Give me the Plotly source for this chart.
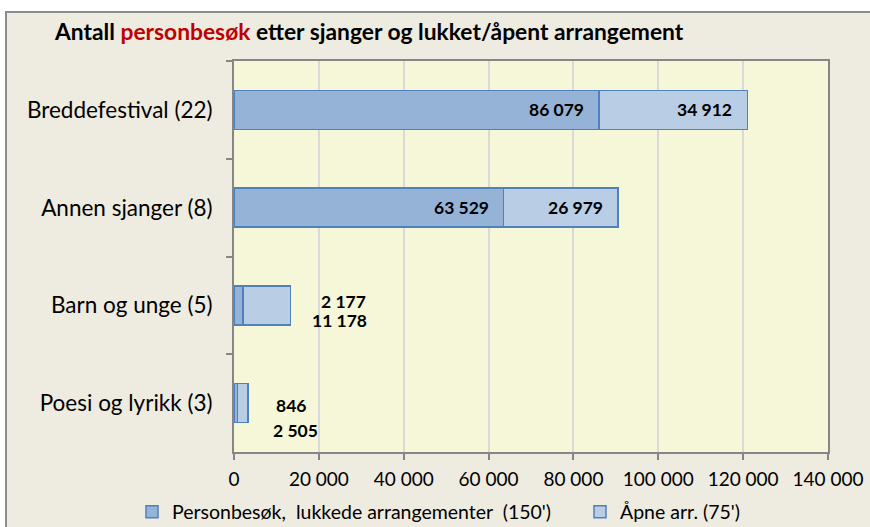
import plotly.graph_objects as go

categories = ["Breddefestival (22)", "Annen sjanger (8)", "Barn og unge (5)", "Poesi og lyrikk (3)"]
closed_vals = [86079, 63529, 2177, 846]
open_vals = [34912, 26979, 11178, 2505]
closed_name = "Personbesøk,\u00a0 lukkede arrangementer\u00a0 (150')"
open_name = "Åpne arr. (75')"
x_ticks = [0, 20000, 40000, 60000, 80000, 100000, 120000, 140000]

W, H = 870, 527
L, R, T, B = 234, 42, 61, 75
pw, ph = W - L - R, H - T - B

def px_x(p):
    return (p - L) / pw

def px_y(p):
    return (H - B - p) / ph

fnt = "Lato, Carlito, Calibri, sans-serif"
lab_size = 17.5

fig = go.Figure()
fig.add_trace(go.Bar(
    y=categories, x=closed_vals, orientation="h", name=closed_name, legend="legend",
    marker=dict(color="#95B3D7", line=dict(color="#4F81BD", width=1.5)),
))
fig.add_trace(go.Bar(
    y=categories, x=open_vals, orientation="h", name=open_name, legend="legend2",
    marker=dict(color="#B9CDE5", line=dict(color="#4F81BD", width=1.5)),
))

def fmt(v):
    return f"{v:,}".replace(",", " ")

annotations = []
for i in range(2):
    c, o = closed_vals[i], open_vals[i]
    annotations.append(dict(x=c, y=categories[i], xref="x", yref="y", text=f"<b>{fmt(c)}</b>",
                            showarrow=False, xanchor="right", xshift=-13,
                            font=dict(family=fnt, size=lab_size, color="black")))
    annotations.append(dict(x=c + o, y=categories[i], xref="x", yref="y", text=f"<b>{fmt(o)}</b>",
                            showarrow=False, xanchor="right", xshift=-13,
                            font=dict(family=fnt, size=lab_size, color="black")))
offsets = {2: [(53, 4), (49, -15)], 3: [(43, -2), (47, -27)]}
for i in (2, 3):
    tot = closed_vals[i] + open_vals[i]
    for (dx, dy), v in zip(offsets[i], (closed_vals[i], open_vals[i])):
        annotations.append(dict(x=tot, y=categories[i], xref="x", yref="y", text=f"<b>{fmt(v)}</b>",
                                showarrow=False, xanchor="center", xshift=dx, yshift=dy,
                                font=dict(family=fnt, size=lab_size, color="black")))

annotations.append(dict(
    x=px_x(52), y=px_y(31), xref="paper", yref="paper", xanchor="left", yanchor="middle",
    text="<b>Antall <span style='color:#C00000'>personbesøk</span> etter sjanger og lukket/åpent arrangement</b>",
    showarrow=False, font=dict(family=fnt, size=22.8, color="black"),
))

shapes = [
    dict(type="rect", xref="paper", yref="paper", x0=px_x(6), x1=px_x(880), y0=px_y(12), y1=px_y(540),
         fillcolor="#EEEBE0", line=dict(color="#8C8C8C", width=2), layer="below"),
    dict(type="rect", xref="paper", yref="paper", x0=0, x1=1, y0=0, y1=1,
         fillcolor="#F5F7D8", line=dict(width=0), layer="below"),
]

leg_common = dict(orientation="h", xanchor="left", y=px_y(512), yanchor="middle",
                  font=dict(family=fnt, size=19.5, color="black"), bgcolor="rgba(0,0,0,0)")

fig.update_layout(
    width=W, height=H,
    margin=dict(l=L, r=R, t=T, b=B, autoexpand=False),
    barmode="stack", bargap=0.6,
    paper_bgcolor="white", plot_bgcolor="rgba(0,0,0,0)",
    separators=", ",
    font=dict(family=fnt, size=16, color="black"),
    showlegend=True,
    legend=dict(x=px_x(132), **leg_common),
    legend2=dict(x=px_x(580), **leg_common),
    annotations=annotations, shapes=shapes,
    xaxis=dict(range=[0, 140000], tickvals=x_ticks, tickformat=",d",
               showgrid=True, gridcolor="#D9D9D9", gridwidth=1.5,
               showline=True, linecolor="#868686", linewidth=2, mirror=True,
               ticks="outside", ticklen=6, tickcolor="#868686", tickwidth=1.5,
               tickfont=dict(family=fnt, size=19), ticklabelstandoff=3,
               zeroline=False, fixedrange=True),
    yaxis=dict(type="category", categoryorder="array", categoryarray=categories,
               autorange="reversed", tickson="boundaries",
               showline=True, linecolor="#868686", linewidth=2, mirror=True,
               ticks="outside", ticklen=6, tickcolor="#868686", tickwidth=1.5,
               tickfont=dict(family=fnt, size=22.5), ticklabelstandoff=15,
               showgrid=False, zeroline=False, fixedrange=True),
)

fig.write_html("out.html", config={"displayModeBar": False},
               post_script="document.body.style.margin='0px';document.body.style.overflow='hidden';")
